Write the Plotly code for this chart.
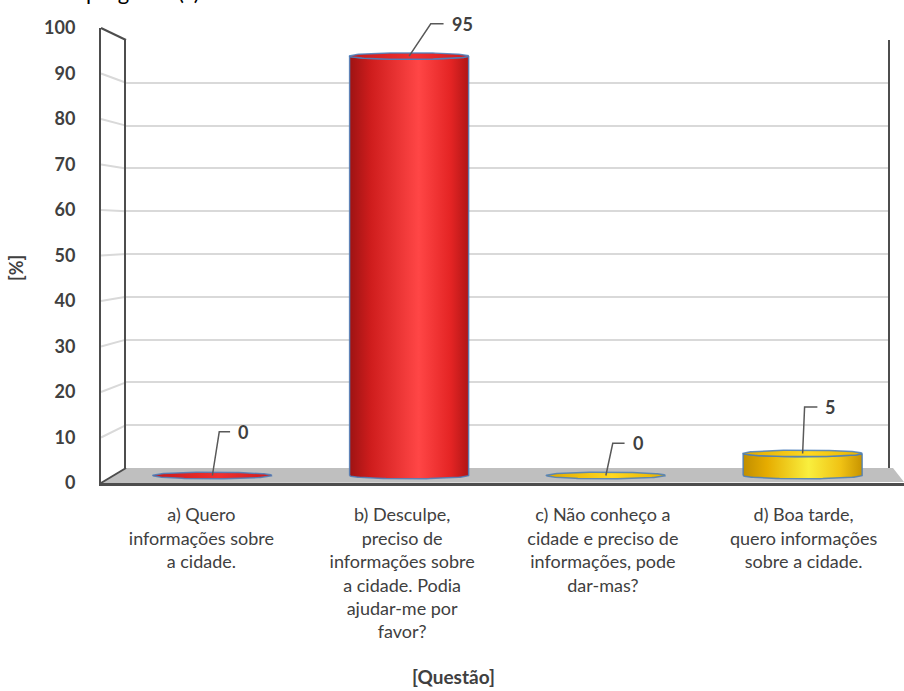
import numpy as np
import plotly.graph_objects as go

# ---- data -------------------------------------------------------------
categories = [
    "a) Quero<br>informações sobre<br>a cidade.",
    "b) Desculpe,<br>preciso de<br>informações sobre<br>a cidade. Podia<br>ajudar-me por<br>favor?",
    "c) Não conheço a<br>cidade e preciso de<br>informações, pode<br>dar-mas?",
    "d) Boa tarde,<br>quero informações<br>sobre a cidade.",
]
values = [0, 95, 0, 5]
y_ticks = list(range(0, 101, 10))
x_title = "[Questão]"
y_title = "[%]"
chart_title = "pergunta (?)"

# ---- styling ----------------------------------------------------------
W, H = 904, 691
FONT = "Lato"
TXT = "#404040"
FRAME = "#4d4d4d"
GRID = "#d9d9d9"

# cylinder palettes: (body gradient, cap gradient)
RED = (
    [[0, "#9e1313"], [0.18, "#cf1d1d"], [0.58, "#ff4646"], [0.85, "#e42424"], [1, "#b01616"]],
    [[0, "#c81a1a"], [0.55, "#f03030"], [1, "#d01c1c"]],
)
GOLD = (
    [[0, "#c08e00"], [0.2, "#e6ac00"], [0.55, "#f9ef3e"], [0.82, "#f0c214"], [1, "#c89400"]],
    [[0, "#e0a800"], [0.55, "#ffd820"], [1, "#e6b000"]],
)
palettes = [RED, RED, GOLD, GOLD]
EDGE = "rgba(74,126,187,0.85)"

# leader line geometry per label: (elbow dx, end dx, rise) in bar-axis units
leaders = [(0.035, 0.09, 9.9), (0.11, 0.175, 7.3), (0.035, 0.095, 7.3), (0.01, 0.075, 10.5)]


def px(x):
    return x / W


def py(y):
    return 1 - y / H


# three depth planes of the pseudo-3D box (pixel geometry)
front = dict(l=101, r=904, y0=483, y100=28)
back = dict(l=126, r=888, y0=468, y100=40)
mid = dict(l=114, r=901, y0=475.5, y100=34)
mid_k = (mid["y0"] - mid["y100"]) / 100.0
mid_range = [-2, 105]

fig = go.Figure()

# invisible anchors so every subplot is created
fig.add_trace(go.Scatter(x=[0], y=[0], xaxis="x", yaxis="y", mode="markers",
                         marker=dict(opacity=0), showlegend=False, hoverinfo="skip"))
fig.add_trace(go.Scatter(x=[0], y=[0], xaxis="x2", yaxis="y2", mode="markers",
                         marker=dict(opacity=0), showlegend=False, hoverinfo="skip"))

# ---- cylinders --------------------------------------------------------
hw = 0.3025
ry = 3.3 / mid_k
t_lo = np.linspace(np.pi, 2 * np.pi, 60)
t_full = np.linspace(0, 2 * np.pi, 120)

for i, (v, pal) in enumerate(zip(values, palettes)):
    body_cs, cap_cs = pal
    if v > 0:
        bx = np.concatenate([i + hw * np.cos(t_lo), i + hw * np.cos(t_lo[::-1])])
        by = np.concatenate([ry * np.sin(t_lo), v + ry * np.sin(t_lo[::-1])])
        bx = np.append(bx, bx[0])
        by = np.append(by, by[0])
        fig.add_trace(go.Scatter(
            x=bx, y=by, xaxis="x3", yaxis="y3", mode="lines", fill="toself",
            fillgradient=dict(type="horizontal", colorscale=body_cs),
            line=dict(color=EDGE, width=1.5), showlegend=False, hoverinfo="skip"))
    cx = i + hw * np.cos(t_full)
    cy = v + ry * np.sin(t_full)
    fig.add_trace(go.Scatter(
        x=cx, y=cy, xaxis="x3", yaxis="y3", mode="lines", fill="toself",
        fillgradient=dict(type="horizontal", colorscale=cap_cs),
        line=dict(color=EDGE, width=1.5), showlegend=False, hoverinfo="skip"))

# ---- data labels with elbow leader lines -------------------------------
annotations = []
for i, (v, (edx, ndx, rise)) in enumerate(zip(values, leaders)):
    fig.add_trace(go.Scatter(
        x=[i, i + edx, i + ndx], y=[v, v + rise, v + rise],
        xaxis="x3", yaxis="y3", mode="lines",
        line=dict(color="#595959", width=1.5), showlegend=False, hoverinfo="skip"))
    annotations.append(dict(
        x=i + ndx, y=v + rise, xref="x3", yref="y3", text=str(v),
        showarrow=False, xanchor="left", yanchor="middle", xshift=6,
        font=dict(family=FONT, size=18, color=TXT, weight="bold")))

# axis titles and the page heading
annotations.append(dict(x=px(453), y=py(676), xref="paper", yref="paper",
                        text=x_title, showarrow=False, xanchor="center", yanchor="middle",
                        font=dict(family=FONT, size=19, color=TXT, weight="bold")))
annotations.append(dict(x=px(16), y=py(268), xref="paper", yref="paper",
                        text=y_title, showarrow=False, textangle=-90,
                        xanchor="center", yanchor="middle",
                        font=dict(family=FONT, size=18, color=TXT, weight="bold")))
annotations.append(dict(x=px(84), y=1, xref="paper", yref="paper", text=chart_title,
                        showarrow=False, xanchor="left", yanchor="bottom", yshift=-7,
                        font=dict(family=FONT, size=22, color="#000000")))

# ---- box frame: floor and left wall -------------------------------------
shapes = []
floor_path = "M {} {} L {} {} L {} {} L {} {} Z".format(
    px(front["l"]), py(front["y0"]), px(back["l"]), py(back["y0"]),
    px(893), py(back["y0"]), px(904), py(482))
shapes.append(dict(type="path", path=floor_path, xref="paper", yref="paper",
                   fillcolor="#bfbfbf", line=dict(width=0), layer="below"))
for v in y_ticks:
    fy = front["y0"] - v * (front["y0"] - front["y100"]) / 100
    byy = back["y0"] - v * (back["y0"] - back["y100"]) / 100
    edge = v in (y_ticks[0], y_ticks[-1])
    shapes.append(dict(type="line", xref="paper", yref="paper",
                       x0=px(front["l"]), y0=py(fy), x1=px(back["l"]), y1=py(byy),
                       line=dict(color=FRAME if edge else GRID, width=2),
                       layer="below" if not edge else "above"))

fig.update_layout(
    template="none",
    width=W, height=H, margin=dict(l=0, r=0, t=0, b=0, pad=0),
    paper_bgcolor="white", plot_bgcolor="rgba(0,0,0,0)",
    showlegend=False, annotations=annotations, shapes=shapes,
    # front plane: tick labels and front edges
    xaxis=dict(domain=[px(front["l"]), px(front["r"])], range=[-0.5, 3.5], anchor="y",
               automargin=False,
               tickmode="array", tickvals=list(range(len(categories))), ticktext=categories,
               showgrid=False, zeroline=False, showline=True, linecolor=FRAME, linewidth=2.5,
               ticks="", ticklabelstandoff=14,
               tickfont=dict(family=FONT, size=18, color=TXT)),
    yaxis=dict(domain=[py(front["y0"]), py(front["y100"])], range=[0, 100], anchor="x",
               automargin=False,
               tickmode="array", tickvals=y_ticks, showgrid=False, zeroline=False,
               showline=True, linecolor=FRAME, linewidth=2, ticks="",
               ticklabelstandoff=20,
               tickfont=dict(family=FONT, size=18, color=TXT, weight="bold")),
    # back wall: gridlines and rear edges
    xaxis2=dict(domain=[px(back["l"]), px(back["r"])], range=[0, 1], anchor="y2",
                automargin=False,
                showgrid=False, zeroline=False, showticklabels=False, ticks=""),
    yaxis2=dict(domain=[py(back["y0"]), py(back["y100"])], range=[0, 100], anchor="x2",
                automargin=False,
                tickmode="array", tickvals=y_ticks[1:], showgrid=True, gridcolor=GRID,
                gridwidth=2, zeroline=False, showticklabels=False, ticks="",
                showline=True, mirror=True, linecolor=FRAME, linewidth=2),
    # mid depth: cylinders
    xaxis3=dict(domain=[px(mid["l"]), px(mid["r"])], range=[-0.5, 3.5], anchor="y3",
                automargin=False, visible=False),
    yaxis3=dict(domain=[py(mid["y0"] + (0 - mid_range[0]) * mid_k),
                        py(mid["y0"] - mid_range[1] * mid_k)],
                range=mid_range, anchor="x3", automargin=False, visible=False),
)

fig.write_html("out.html")
